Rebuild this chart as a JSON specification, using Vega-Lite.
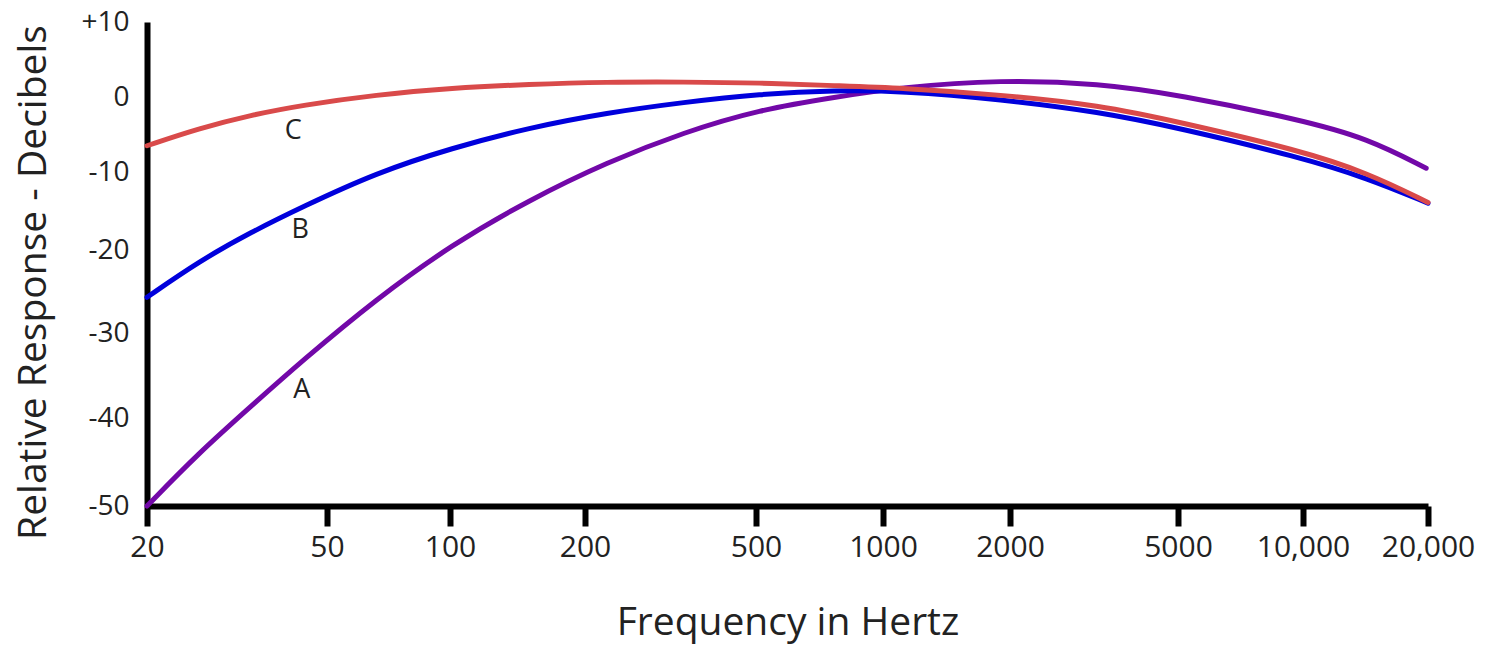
{
  "$schema": "https://vega.github.io/schema/vega-lite/v6.json",
  "width": 1281,
  "height": 484,
  "autosize": "none",
  "padding": {"left": 147, "top": 22, "right": 62, "bottom": 139},
  "background": "white",
  "config": {
    "view": {"stroke": null},
    "font": "Open Sans"
  },
  "datasets": {
    "curves": [
      {"curve": "A", "freq": 20, "db": -50},
      {"curve": "A", "freq": 26, "db": -44.0},
      {"curve": "A", "freq": 34, "db": -38.6},
      {"curve": "A", "freq": 44, "db": -33.3},
      {"curve": "A", "freq": 66, "db": -25.9},
      {"curve": "A", "freq": 101, "db": -19.3},
      {"curve": "A", "freq": 150, "db": -13.6},
      {"curve": "A", "freq": 225, "db": -8.7},
      {"curve": "A", "freq": 340, "db": -4.7},
      {"curve": "A", "freq": 508, "db": -1.7},
      {"curve": "A", "freq": 775, "db": 0.0},
      {"curve": "A", "freq": 1100, "db": 1.3},
      {"curve": "A", "freq": 1900, "db": 2.3},
      {"curve": "A", "freq": 3270, "db": 1.8},
      {"curve": "A", "freq": 5000, "db": 0.3},
      {"curve": "A", "freq": 9800, "db": -3.0},
      {"curve": "A", "freq": 14300, "db": -5.5},
      {"curve": "A", "freq": 19800, "db": -9.5},
      {"curve": "B", "freq": 20, "db": -25.7},
      {"curve": "B", "freq": 26, "db": -21.4},
      {"curve": "B", "freq": 34, "db": -17.7},
      {"curve": "B", "freq": 44, "db": -14.5},
      {"curve": "B", "freq": 66, "db": -10.1},
      {"curve": "B", "freq": 101, "db": -6.8},
      {"curve": "B", "freq": 150, "db": -4.1},
      {"curve": "B", "freq": 225, "db": -2.1},
      {"curve": "B", "freq": 340, "db": -0.7},
      {"curve": "B", "freq": 508, "db": 0.4},
      {"curve": "B", "freq": 775, "db": 0.9},
      {"curve": "B", "freq": 1100, "db": 0.8},
      {"curve": "B", "freq": 1900, "db": -0.3},
      {"curve": "B", "freq": 3270, "db": -2.0},
      {"curve": "B", "freq": 5000, "db": -4.1},
      {"curve": "B", "freq": 9800, "db": -8.0},
      {"curve": "B", "freq": 14300, "db": -10.8},
      {"curve": "B", "freq": 20000, "db": -14.0},
      {"curve": "C", "freq": 20, "db": -6.5},
      {"curve": "C", "freq": 26, "db": -4.2},
      {"curve": "C", "freq": 34, "db": -2.4},
      {"curve": "C", "freq": 44, "db": -1.1},
      {"curve": "C", "freq": 66, "db": 0.3},
      {"curve": "C", "freq": 101, "db": 1.2},
      {"curve": "C", "freq": 150, "db": 1.7},
      {"curve": "C", "freq": 225, "db": 2.0},
      {"curve": "C", "freq": 340, "db": 2.0},
      {"curve": "C", "freq": 508, "db": 1.9},
      {"curve": "C", "freq": 775, "db": 1.5},
      {"curve": "C", "freq": 1100, "db": 1.2},
      {"curve": "C", "freq": 1900, "db": 0.3},
      {"curve": "C", "freq": 3270, "db": -1.1},
      {"curve": "C", "freq": 5000, "db": -3.3},
      {"curve": "C", "freq": 9800, "db": -7.1},
      {"curve": "C", "freq": 14300, "db": -10.1},
      {"curve": "C", "freq": 20000, "db": -13.9}
    ],
    "labels": [
      {"curve": "A", "freq": 44, "db": -36.7},
      {"curve": "B", "freq": 43.6, "db": -17.4},
      {"curve": "C", "freq": 42.1, "db": -4.5}
    ]
  },
  "encoding": {
    "x": {
      "field": "freq",
      "type": "quantitative",
      "scale": {
        "type": "log",
        "domain": [20, 50, 100, 200, 500, 1000, 2000, 5000, 10000, 20000],
        "range": [0, 180, 303, 438, 609, 736, 863, 1031, 1156, 1281]
      },
      "axis": {
        "values": [20, 50, 100, 200, 500, 1000, 2000, 5000, 10000, 20000],
        "labelExpr": "datum.value >= 10000 ? format(datum.value, ',') : format(datum.value, 'd')",
        "grid": false,
        "domainColor": "black",
        "domainWidth": 6,
        "tickColor": "black",
        "tickWidth": 6,
        "tickSize": 20,
        "labelFontSize": 30,
        "labelColor": "#222",
        "labelPadding": 6,
        "labelBaseline": "top",
        "labelFlush": false,
        "labelOverlap": false,
        "title": "Frequency in Hertz",
        "titleFontSize": 39,
        "titleFontWeight": "normal",
        "titleColor": "#222",
        "titleBaseline": "alphabetic",
        "titleY": 128
      }
    },
    "y": {
      "field": "db",
      "type": "quantitative",
      "scale": {
        "domain": [-50, -40, -30, -20, -10, 0, 10],
        "range": [484, 396, 311, 228, 150, 75, 0]
      },
      "axis": {
        "values": [10, 0, -10, -20, -30, -40, -50],
        "labelExpr": "datum.value > 0 ? '+' + datum.value : '' + datum.value",
        "grid": false,
        "ticks": false,
        "domainColor": "black",
        "domainWidth": 6,
        "labelFontSize": 28,
        "labelColor": "#222",
        "labelPadding": 18,
        "labelFlush": false,
        "labelOverlap": false,
        "title": "Relative Response - Decibels",
        "titleFontSize": 39,
        "titleFontWeight": "normal",
        "titleColor": "#222",
        "titleBaseline": "middle",
        "titleX": -114,
        "titleY": 260,
        "titleAnchor": null
      }
    }
  },
  "layer": [
    {
      "data": {"name": "curves"},
      "mark": {"type": "line", "strokeWidth": 5, "strokeCap": "round", "interpolate": "basis"},
      "encoding": {
        "color": {
          "field": "curve",
          "type": "nominal",
          "scale": {"domain": ["A", "B", "C"], "range": ["#7208a8", "#0000dc", "#d94a4a"]},
          "legend": null
        }
      }
    },
    {
      "data": {"name": "labels"},
      "mark": {"type": "text", "fontSize": 27, "color": "#222", "align": "center", "baseline": "middle"},
      "encoding": {
        "text": {"field": "curve", "type": "nominal"}
      }
    }
  ]
}
